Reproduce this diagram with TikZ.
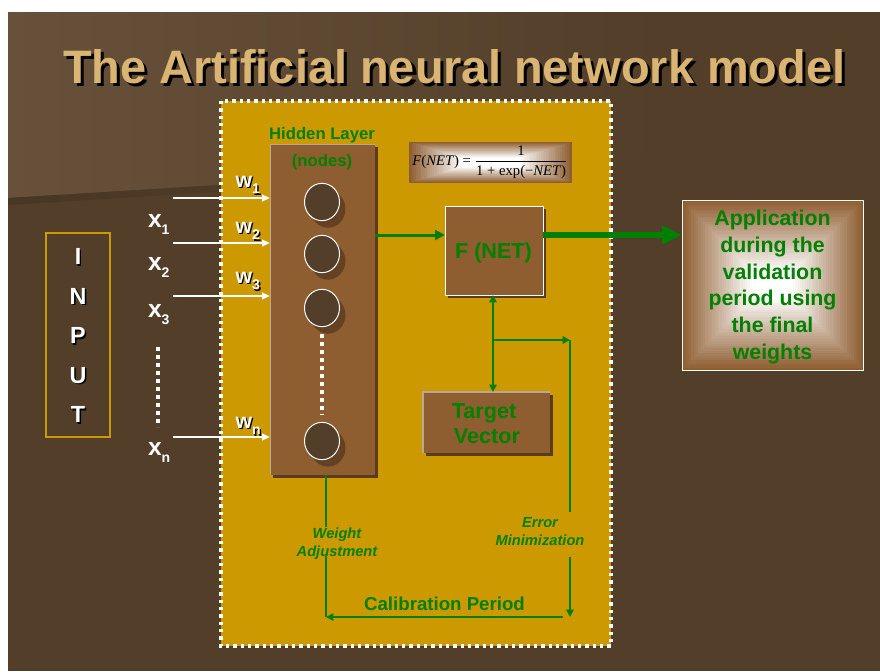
\documentclass[tikz,border=0pt]{standalone}
\usepackage{fontspec}
\setmainfont{Liberation Sans}
\newfontfamily\fserif{Liberation Serif}
\usetikzlibrary{arrows.meta,fit,shapes.geometric}
\definecolor{bgdark}{HTML}{523E29}
\definecolor{bglight}{HTML}{68513A}
\definecolor{gold}{HTML}{CC9900}
\definecolor{boxbrown}{HTML}{8E5E31}
\definecolor{shadowbrown}{HTML}{5A3B1E}
\definecolor{ggreen}{HTML}{008000}
\definecolor{titletan}{HTML}{D9B473}
\definecolor{edgegray}{HTML}{B8A89A}
\newcommand\mysub[1]{\raisebox{-0.32em}{\fontsize{10.5}{10.5}\selectfont #1}}
% text with a black drop shadow, offset #1
\newcommand\shadowed[2]{\makebox[0pt][l]{\hspace{#1}\raisebox{-#1}{\color{black}#2}}#2}
% rectangular "pyramid" glow: outer box #1,#2 -- #3,#4 (brown) to inner box #5,#6 -- #7,#8 (white)
\newcommand\pyrbox[8]{%
  \foreach \k in {0,...,30}{%
    \pgfmathsetmacro\tt{\k/30}%
    \pgfmathtruncatemacro\pc{100-100*\tt}%
    \fill[boxbrown!\pc!white] ({#1+(#5-#1)*\tt},{#2+(#6-#2)*\tt}) rectangle ({#3+(#7-#3)*\tt},{#4+(#8-#4)*\tt});
  }%
  \fill[white] (#5,#6) rectangle (#7,#8);
}
\begin{document}
\begin{tikzpicture}[x=0.75pt,y=-0.75pt,
  every node/.style={inner sep=0pt, outer sep=0pt},
  titlestyle/.style={anchor=base west, font=\bfseries\fontsize{35.2}{40}\selectfont},
  gtext/.style={text=ggreen, align=center, font=\bfseries\fontsize{#1}{#1}\selectfont},
  gitext/.style={text=ggreen, align=center, font=\bfseries\itshape\fontsize{11}{13.5}\selectfont},
  wtext/.style={text=white, font=\bfseries\fontsize{#1}{#1}\selectfont},
  warrow/.style={draw=white, line width=1.5pt, -{Triangle[length=6pt,width=5pt]}},
  garrow/.style={draw=ggreen, line width=2.25pt, -{Triangle[length=7.5pt,width=7.5pt]}},
  bigarrow/.style={draw=ggreen, line width=4.5pt, -{Triangle[length=15pt,width=13.5pt]}},
  gline/.style={draw=ggreen, line width=1.5pt},
  gsmall/.style={gline, -{Triangle[length=5.5pt,width=5.5pt]}},
  wdots/.style={draw=white, line width=3.3pt, dash pattern=on 3pt off 3pt},
  nodecirc/.style={ellipse, minimum width=26.25pt, minimum height=28pt, fill=bgdark, draw=white, line width=0.75pt}
]
\useasboundingbox (0,0) rectangle (880,671);
\fill[white] (0,0) rectangle (880,671);
\fill[bgdark] (8,12) rectangle (880,671);
\shade[left color=bglight, right color=bgdark] (8,12) -- (660,12) -- (660,158) -- (8,198) -- cycle;
\shade[left color=bgdark!88!black, right color=bgdark] (8,198) -- (420,172.6) -- (420,179) -- (8,205) -- cycle;

% title
\node[titlestyle, text=titletan] (title) at (63,83) {\shadowed{2.3pt}{The Artificial neural network model}};

% calibration region
\node[fit={(221,101)(611,646)}, fill=gold] (calib) {};
\draw[draw=white, line width=2.4pt, dash pattern=on 2.4pt off 3.1pt] (calib.north west) rectangle (calib.south east);

% INPUT box
\node[fit={(46,233)(110,437)}, draw=gold, line width=1.5pt] (inputbox) {};
\node[wtext=17.5, align=center, font=\bfseries\fontsize{17.5}{29.6}\selectfont] (inputt) at (78,336.5) {\shadowed{1.1pt}{I}\\\shadowed{1.1pt}{N}\\\shadowed{1.1pt}{P}\\\shadowed{1.1pt}{U}\\\shadowed{1.1pt}{T}};

% x labels
\foreach \i/\yy in {1/227,2/270,3/317,n/455} {
  \node[wtext=18.5, anchor=base west] (x\i) at (148,\yy) {x\mysub{\i}};
}
\coordinate (xdtop) at (158,347);
\coordinate (xdbot) at (158,427);
\draw[wdots] (xdtop) -- (xdbot);

% hidden layer column
\fill[shadowbrown] (273,147) rectangle (377.5,477.5);
\node[fit={(270,144)(375,475)}, fill=boxbrown] (hidden) {};
\draw[edgegray, line width=0.75pt] (hidden.south west) -- (hidden.north west) -- (hidden.north east);
\node[gtext=12.5] (hl) at (322,135) {Hidden Layer};
\node[gtext=12.5] (nodes) at (322,162) {(nodes)};

\foreach \n/\yy in {c1/202,c2/254,c3/308,cn/441} {
  \fill[black, opacity=0.3] (328,\yy+7) ellipse [x radius=13.1pt, y radius=14pt];
  \node[nodecirc] (\n) at (322,\yy) {};
}
\draw[wdots] (c3.south) ++(0,7) coordinate (hdtop) -- (322,415) coordinate (hdbot);

% input arrows and weights
\foreach \i/\yy in {1/198,2/243,3/296,n/437} {
  \coordinate (in\i) at (173,\yy);
  \draw[warrow] (in\i) -- (in\i -| hidden.west);
}
\foreach \i/\yy in {1/187,2/233,3/283,n/428} {
  \node[wtext=16, anchor=base west] (w\i) at (235.5,\yy) {\shadowed{1.1pt}{w\mysub{\i}}};
}

% formula
\pyrbox{409}{142}{572}{183}{462}{158}{520}{167}
\node[fit={(409,142)(572,183)}] (formula) {};
\node[text=black, font=\fserif\fontsize{11}{12}\selectfont] (ftext) at (490,162) {$\displaystyle\hbox{\itshape F\/\upshape(\itshape NET\/\upshape) = }\frac{\hbox{1}}{\hbox{1 + exp(−\itshape NET\/\upshape)}}$};

% F(NET)
\fill[shadowbrown] (448,209) rectangle (546,298);
\node[fit={(445,206)(543,295)}, fill=boxbrown, draw=white, line width=0.75pt] (fnet) {};
\node[gtext=16.2, anchor=base] (fnettext) at (493.5,258) {F (NET)};

% Target vector
\fill[shadowbrown] (426,395) rectangle (552.5,455.5);
\node[fit={(423,392)(550,453)}, fill=boxbrown] (target) {};
\draw[edgegray, line width=0.9pt] (target.south west) -- (target.north west) -- (target.north east);
\node[gtext=16.2, anchor=base] (tv1) at (484,418) {Target};
\node[gtext=16.2, anchor=base] (tv2) at (487,443) {Vector};

% Application box
\pyrbox{682}{200}{863}{370}{752}{272}{793}{298}
\node[fit={(682,200)(863,370)}, draw=white, line width=0.75pt] (app) {};
\node[text=ggreen, align=center, font=\bfseries\fontsize{16}{20}\selectfont] (apptext) at (772.5,287) {Application\\during the\\validation\\period using\\the final\\weights};

% arrows
\coordinate (a1) at (375,235);
\draw[garrow] (a1) -- (a1 -| fnet.west);
\coordinate (a2) at (543,235);
\draw[bigarrow] (a2) -- (a2 -| app.west);

\coordinate (fb) at (493,295);
\draw[gline, {Triangle[length=5.5pt,width=5.5pt]}-{Triangle[length=5.5pt,width=5.5pt]}] (fb) -- (fb |- target.north);
\coordinate (br) at (493,340);
\coordinate (bc) at (570,340);
\draw[gsmall] (br) -- (bc);
\coordinate (em1) at (570,512);
\draw[gline] (bc) -- (em1);
\node[gitext] (errmin) at (540,532) {Error\\Minimization};
\coordinate (em2) at (570,557);
\coordinate (em3) at (570,617);
\draw[gsmall] (em2) -- (em3);
\coordinate (cp1) at (563,617);
\coordinate (cp2) at (326,617);
\draw[gsmall] (cp1) -- (cp2);
\coordinate (wa1) at (326,475);
\coordinate (wa2) at (326,527);
\coordinate (wa3) at (326,556);
\draw[gline] (wa1) -- (wa2);
\draw[gline] (wa3) -- (cp2);
\node[gitext] (weightadj) at (337,544) {Weight\\Adjustment};
\node[gtext=14, anchor=base] (calibtext) at (444.5,610) {Calibration Period};
\end{tikzpicture}
\end{document}
